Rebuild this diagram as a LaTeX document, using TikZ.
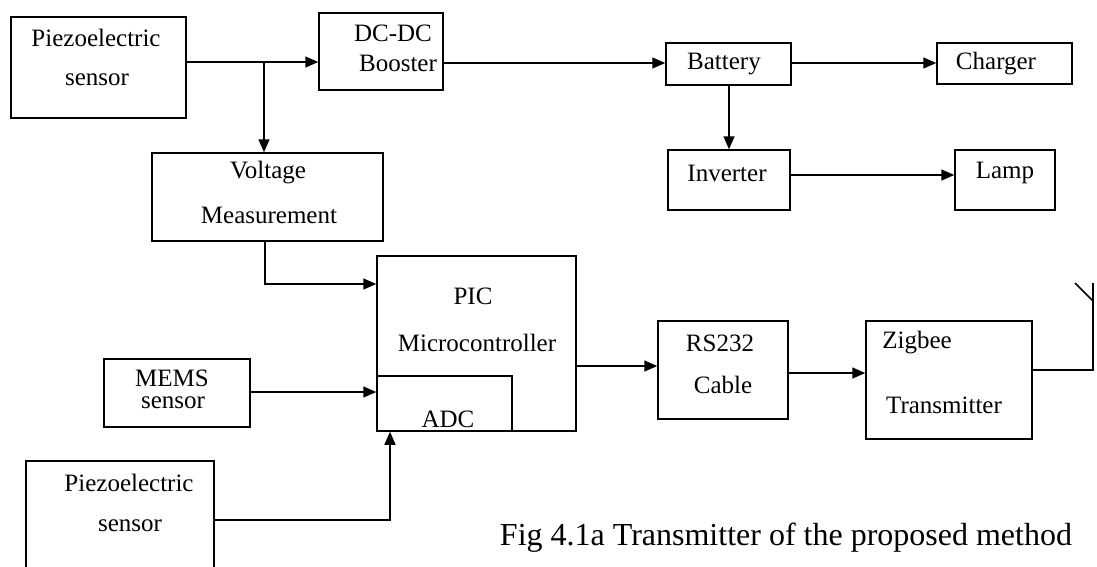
\documentclass[tikz,border=0pt]{standalone}
\usepackage{fontspec}
\setmainfont{Liberation Serif}
\usetikzlibrary{arrows.meta}
\begin{document}
\begin{tikzpicture}[x=1pt,y=-1pt,
  blk/.style={draw, line width=1.5pt, inner sep=0pt},
  txt/.style={inner sep=0pt, font=\fontsize{25}{29}\selectfont},
  arr/.style={line width=1.5pt, -{Triangle[length=13pt,width=11pt]}},
  wire/.style={line width=1.5pt}]
\useasboundingbox (0,0) rectangle (1097,566);
% boxes
\node[blk, minimum width=175pt, minimum height=101pt] (p1) at (98.5,67.5) {};
\node[blk, minimum width=124pt, minimum height=77pt] (dc) at (381,51.5) {};
\node[blk, minimum width=125pt, minimum height=42pt] (bat) at (728.5,64) {};
\node[blk, minimum width=135pt, minimum height=41pt] (chg) at (1004.5,63.5) {};
\node[blk, minimum width=122pt, minimum height=60pt] (inv) at (729,180) {};
\node[blk, minimum width=100pt, minimum height=60pt] (lamp) at (1005,180) {};
\node[blk, minimum width=231pt, minimum height=88pt] (vm) at (267.5,197) {};
\node[blk, minimum width=199pt, minimum height=175pt] (pic) at (476.5,343.5) {};
\node[blk, minimum width=135pt, minimum height=55pt] (adc) at (444.5,403.5) {};
\node[blk, minimum width=146pt, minimum height=68pt] (mems) at (177,393) {};
\node[blk, minimum width=130pt, minimum height=98pt] (rs) at (723,370) {};
\node[blk, minimum width=166pt, minimum height=118pt] (zb) at (949,380) {};
\node[blk, minimum width=188pt, minimum height=120pt] (p2) at (120,521) {};
% texts
\node[txt] (t1a) at (96,38) {Piezoelectric};
\node[txt] (t1b) at (97,80) {sensor};
\node[txt] (t2a) at (393,33) {DC-DC};
\node[txt] (t2b) at (398,63) {Booster};
\node[txt] (t3) at (724,64) {Battery};
\node[txt] (t4) at (996,64) {Charger};
\node[txt] (t5) at (727,173) {Inverter};
\node[txt] (t6) at (1005,173) {Lamp};
\node[txt] (t7a) at (268,173) {Voltage};
\node[txt] (t7b) at (269,215) {Measurement};
\node[txt] (t8a) at (473,296) {PIC};
\node[txt] (t8b) at (477,343) {Microcontroller};
\node[txt] (t9) at (448,419) {ADC};
\node[txt] (t10a) at (172,378) {MEMS};
\node[txt] (t10b) at (173,403) {sensor};
\node[txt] (t11a) at (720,343) {RS232};
\node[txt] (t11b) at (723,385) {Cable};
\node[txt] (t12a) at (917,343) {Zigbee};
\node[txt] (t12b) at (944,405) {Transmitter};
\node[txt] (t13a) at (129,483) {Piezoelectric};
\node[txt] (t13b) at (130,526) {sensor};
\node[inner sep=0pt, font=\fontsize{32}{36}\selectfont] (cap) at (786,538) {Fig 4.1a Transmitter of the proposed method};
% connectors
\coordinate (j1) at (264,62);
\draw[arr] (p1.east |- 0,62) -- (dc.west |- 0,62);
\draw[arr] (j1) -- (vm.north -| j1);
\draw[arr] (dc.east |- 0,63) -- (bat.west |- 0,63);
\draw[arr] (bat.east |- 0,63) -- (chg.west |- 0,63);
\draw[arr] (bat.south -| 729,0) -- (inv.north -| 729,0);
\draw[arr] (inv.east |- 0,175) -- (lamp.west |- 0,175);
\draw[arr] (vm.south -| 265,0) |- (pic.west |- 0,284);
\draw[arr] (mems.east |- 0,392) -- (pic.west |- 0,392);
\draw[arr] (p2.east |- 0,520) -| (pic.south -| 390,0);
\draw[arr] (pic.east |- 0,366) -- (rs.west |- 0,366);
\draw[arr] (rs.east |- 0,373) -- (zb.west |- 0,373);
\coordinate (ant) at (1093,283);
\coordinate (antj) at (1093,301);
\coordinate (antl) at (1075,283);
\draw[wire] (zb.east |- 0,370) -| (ant);
\draw[wire] (antj) -- (antl);
\end{tikzpicture}
\end{document}
